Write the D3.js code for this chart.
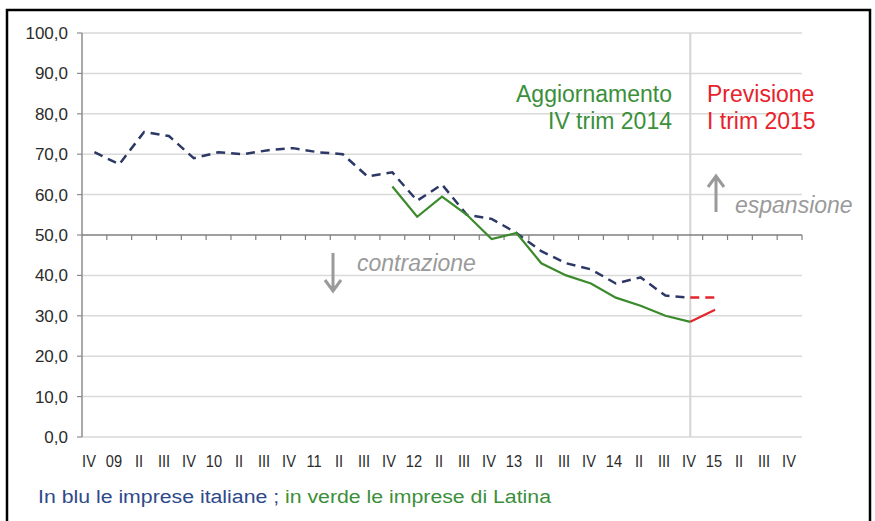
<!DOCTYPE html>
<html lang="it">
<head>
<meta charset="UTF-8">
<title>Clima di fiducia imprese</title>
<script src="https://d3js.org/d3.v7.min.js"></script>
<style>
  body { margin: 0; background: #ffffff; }
  svg text { font-family: "Liberation Sans", Arial, sans-serif; }
</style>
</head>
<body>
<div id="vis"></div>
<script>
// trimestri, da IV 2008 a IV 2015
const xLabels = ["IV","09","II","III","IV","10","II","III","IV","11","II","III",
                 "IV","12","II","III","IV","13","II","III","IV","14","II","III",
                 "IV","15","II","III","IV"];
const yTicks = [0,10,20,30,40,50,60,70,80,90,100];

// imprese italiane (blu), dal primo trimestre
const italia = [70.5,67.5,75.5,74.5,69,70.5,70,71,71.5,70.5,70,64.5,
                65.5,58.5,62.5,55,54,50.5,46,43,41.5,38,39.5,35,34.5];
// imprese di Latina (verde), dal trimestre n. 12
const latinaStart = 12;
const latina = [62,54.5,59.5,55,49,50.5,43,40,38,34.5,32.5,30,28.5];
// previsione I trim 2015 (rosso), dal trimestre n. 24
const prevStart = 24;
const prevItalia = [34.5,34.5];
const prevLatina = [28.5,31.5];

const W = 875, H = 521;
const svg = d3.select("#vis").append("svg")
    .attr("width", W).attr("height", H);

// cornice
svg.append("rect")
    .attr("x", 7).attr("y", 10)
    .attr("width", 863).attr("height", 530)
    .attr("fill", "none").attr("stroke", "#000").attr("stroke-width", 2.5);

const x = d3.scaleBand().domain(d3.range(xLabels.length)).range([82, 802]);
const y = d3.scaleLinear().domain([0, 100]).range([437, 33]);
const cx = i => x(i) + x.bandwidth() / 2;
const xl = d3.scalePoint().domain(d3.range(xLabels.length)).range([89, 789]);

// griglia
svg.selectAll("line.grid")
    .data(yTicks.filter(d => d !== 50))
    .enter().append("line")
    .attr("x1", 82).attr("x2", 802)
    .attr("y1", d => y(d)).attr("y2", d => y(d))
    .attr("stroke", "#d9d9d9").attr("stroke-width", 1.5);

// linea verticale IV 2014
svg.append("line")
    .attr("x1", cx(prevStart)).attr("x2", cx(prevStart))
    .attr("y1", y(100)).attr("y2", y(0))
    .attr("stroke", "#d4d4d4").attr("stroke-width", 2);

// asse y
svg.append("line")
    .attr("x1", 82).attr("x2", 82)
    .attr("y1", y(100)).attr("y2", y(0))
    .attr("stroke", "#8c8c8c").attr("stroke-width", 1.5);
svg.selectAll("line.ytick")
    .data(yTicks)
    .enter().append("line")
    .attr("x1", 77).attr("x2", 82)
    .attr("y1", d => y(d)).attr("y2", d => y(d))
    .attr("stroke", "#8c8c8c").attr("stroke-width", 1.2);
svg.selectAll("text.ylab")
    .data(yTicks)
    .enter().append("text")
    .attr("x", 68).attr("y", d => y(d) + 6)
    .attr("text-anchor", "end")
    .attr("font-size", 17)
    .attr("fill", "#2b2b2b")
    .text(d => d3.format(".1f")(d).replace(".", ","));

// asse x a quota 50
svg.append("line")
    .attr("x1", 82).attr("x2", 802)
    .attr("y1", y(50)).attr("y2", y(50))
    .attr("stroke", "#7f7f7f").attr("stroke-width", 1.5);
svg.selectAll("line.xtick")
    .data(d3.range(1, xLabels.length + 1))
    .enter().append("line")
    .attr("x1", d => x(0) + d * x.step()).attr("x2", d => x(0) + d * x.step())
    .attr("y1", y(50)).attr("y2", y(50) + 5)
    .attr("stroke", "#7f7f7f").attr("stroke-width", 1.2);

svg.selectAll("text.xlab")
    .data(xLabels)
    .enter().append("text")
    .attr("transform", (d, i) => `translate(${xl(i)},467) scale(0.86,1)`)
    .attr("text-anchor", "middle")
    .attr("font-size", 17)
    .attr("fill", "#2b2b2b")
    .text(d => d);

const line = d3.line().x(d => cx(d.i)).y(d => y(d.v));
const pts = (arr, start) => arr.map((v, k) => ({i: start + k, v: v}));

svg.append("path")
    .datum(pts(italia, 0))
    .attr("d", line)
    .attr("fill", "none").attr("stroke", "#2c3966")
    .attr("stroke-width", 2.5).attr("stroke-dasharray", "9,6");

svg.append("path")
    .datum(pts(latina, latinaStart))
    .attr("d", line)
    .attr("fill", "none").attr("stroke", "#3b8a2c").attr("stroke-width", 2.2);

svg.append("path")
    .datum(pts(prevItalia, prevStart))
    .attr("d", line)
    .attr("fill", "none").attr("stroke", "#e2262c")
    .attr("stroke-width", 2.5).attr("stroke-dasharray", "9,6");

svg.append("path")
    .datum(pts(prevLatina, prevStart))
    .attr("d", line)
    .attr("fill", "none").attr("stroke", "#e2262c").attr("stroke-width", 2.2);

// annotazioni
const green = "#3b8f3a", red = "#e8222c", grey = "#9a9a9a";
svg.append("text").attr("x", 672).attr("y", 102).attr("text-anchor", "end")
    .attr("font-size", 23).attr("fill", green).text("Aggiornamento");
svg.append("text").attr("x", 672).attr("y", 129).attr("text-anchor", "end")
    .attr("font-size", 23).attr("fill", green).text("IV trim 2014");
svg.append("text").attr("x", 707).attr("y", 102)
    .attr("font-size", 23).attr("fill", red).text("Previsione");
svg.append("text").attr("x", 707).attr("y", 129)
    .attr("font-size", 23).attr("fill", red).text("I trim 2015");

svg.append("path")
    .attr("d", "M716,212 L716,177 M708,187 L716,176 L724,187")
    .attr("fill", "none").attr("stroke", grey).attr("stroke-width", 3);
svg.append("text").attr("x", 735).attr("y", 213)
    .attr("font-size", 23).attr("font-style", "italic").attr("fill", grey)
    .text("espansione");

svg.append("path")
    .attr("d", "M333,253 L333,290 M325,280 L333,291 L341,280")
    .attr("fill", "none").attr("stroke", grey).attr("stroke-width", 3);
svg.append("text").attr("x", 357).attr("y", 271)
    .attr("font-size", 23).attr("font-style", "italic").attr("fill", grey)
    .text("contrazione");

// nota
const note = svg.append("text")
    .attr("transform", "translate(38,503) scale(1.12,1)")
    .attr("font-size", 19);
note.append("tspan").attr("fill", "#2f4a8a").text("In blu le imprese italiane ; ");
note.append("tspan").attr("fill", "#3b8f3a").text("in verde le imprese di Latina");
</script>
</body>
</html>
